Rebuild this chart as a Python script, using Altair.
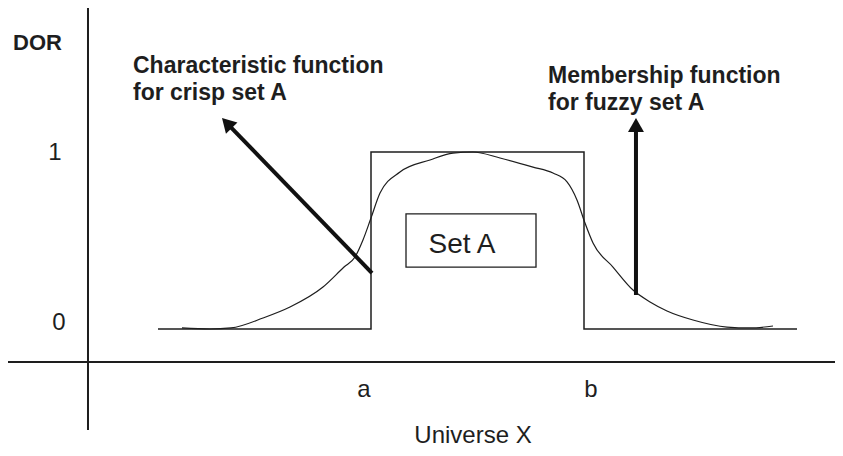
import math
import altair as alt
import pandas as pd

# ---- frame (universe units on x, degree of membership on y) ----
X_MIN, X_MAX = -2.1127, 9.5352
Y_MIN, Y_MAX = -0.6723, 1.8136
W, H = 827, 440
INK = "#1e1e1e"
FONT = "Liberation Sans"

# ---- crisp characteristic function ----
crisp_x = [0, 3, 3, 6, 6, 9]
crisp_y = [0, 0, 1, 1, 0, 0]

# ---- fuzzy membership function ----
fuzzy_x = [0.338, 0.732, 1.028, 1.479, 1.859, 2.324, 2.620, 2.775, 2.887, 3.0,
           3.127, 3.408, 3.831, 4.155, 4.437, 4.817, 5.282, 5.563, 5.761, 5.901,
           6.014, 6.127, 6.408, 6.690, 6.930, 7.169, 7.535, 8.014, 8.338, 8.662]
fuzzy_y = [0.006, 0.0, 0.006, 0.062, 0.124, 0.237, 0.350, 0.407, 0.503, 0.627,
           0.768, 0.887, 0.955, 0.994, 1.0, 0.966, 0.915, 0.881, 0.831, 0.729,
           0.599, 0.486, 0.350, 0.220, 0.153, 0.102, 0.051, 0.011, 0.006, 0.017]

# ---- hand-drawn axes ----
v_axis_x = [-0.986]
v_axis_y = [-0.571, 1.8136]
h_axis_y = [-0.1864]
h_axis_x = [X_MIN, X_MAX]

# ---- "Set A" box ----
box_x = [3.493]
box_x2 = [5.324]
box_y = [0.350]
box_y2 = [0.650]

# ---- arrows ----
arrow_sx = [3.014, 6.732]
arrow_sy = [0.316, 0.192]
arrow_tx = [0.901, 6.732]
arrow_ty = [1.192, 1.192]

# ---- labels ----
tick_lbl = ["1", "0"]
tick_lbl_x = [-1.451, -1.394]
tick_lbl_y = [0.955, -0.006]
pt_lbl = ["a", "b"]
pt_lbl_x = [2.901, 6.099]
pt_lbl_y = [-0.384, -0.384]
notes = ["Characteristic function\nfor crisp set A", "Membership function\nfor fuzzy set A"]
notes_x = [-0.352, 5.493]
notes_y = [1.446, 1.390]

xs = alt.Scale(domain=[X_MIN, X_MAX], nice=False, zero=False)
ys = alt.Scale(domain=[Y_MIN, Y_MAX], nice=False, zero=False)


def X(f="x"):
    return alt.X(f"{f}:Q", scale=xs, axis=None)


def Y(f="y"):
    return alt.Y(f"{f}:Q", scale=ys, axis=None)


px_x = W / (X_MAX - X_MIN)
px_y = H / (Y_MAX - Y_MIN)
rows = []
for sx, sy, tx, ty in zip(arrow_sx, arrow_sy, arrow_tx, arrow_ty):
    dxp = (tx - sx) * px_x
    dyp = (ty - sy) * px_y
    L = math.hypot(dxp, dyp)
    back = 8.0
    ex = tx - dxp / L * back / px_x
    ey = ty - dyp / L * back / px_y
    ang = math.degrees(math.atan2(dxp, dyp)) % 360
    rows.append(dict(x=sx, y=sy, x2=ex, y2=ey, tx=tx, ty=ty, ang=ang))
arrows = pd.DataFrame(rows)

crisp = alt.Chart(pd.DataFrame({"x": crisp_x, "y": crisp_y, "o": range(len(crisp_x))})).mark_line(
    color=INK, strokeWidth=1.5).encode(x=X(), y=Y(), order="o:Q")
fuzzy = alt.Chart(pd.DataFrame({"x": fuzzy_x, "y": fuzzy_y})).mark_line(
    color=INK, strokeWidth=1.2, interpolate="monotone").encode(x=X(), y=Y())

vaxis = alt.Chart(pd.DataFrame({"x": v_axis_x, "y": [v_axis_y[0]], "y2": [v_axis_y[1]]})).mark_rule(
    color=INK, strokeWidth=2).encode(x=X(), y=Y(), y2="y2:Q")
haxis = alt.Chart(pd.DataFrame({"y": h_axis_y, "x": [h_axis_x[0]], "x2": [h_axis_x[1]]})).mark_rule(
    color=INK, strokeWidth=2).encode(y=Y(), x=X(), x2="x2:Q")

box = alt.Chart(pd.DataFrame({"x": box_x, "x2": box_x2, "y": box_y, "y2": box_y2})).mark_rect(
    fill="transparent", stroke=INK, strokeWidth=1.3).encode(x=X(), x2="x2:Q", y=Y(), y2="y2:Q")

shafts = alt.Chart(arrows).mark_rule(color="#111", strokeWidth=4).encode(
    x=X(), y=Y(), x2="x2:Q", y2="y2:Q")
heads = alt.Chart(arrows).mark_point(
    shape="M0,0L0.57,1L-0.57,1Z", filled=True, opacity=1, color="#111", size=784, strokeWidth=0
).encode(x=X("tx"), y=Y("ty"), angle=alt.Angle("ang:Q", scale=None))


def txt(df, size, bold=False, align="center", **kw):
    return alt.Chart(df).mark_text(
        font=FONT, fontSize=size, fontWeight="bold" if bold else "normal", color=INK,
        align=align, baseline="alphabetic", **kw
    ).encode(x=X(), y=Y(), text="t:N")


t_dor = txt(pd.DataFrame({"x": [-2.042], "y": [1.576], "t": ["DOR"]}), 22, bold=True, align="left")
t_ticks = txt(pd.DataFrame({"x": tick_lbl_x, "y": tick_lbl_y, "t": tick_lbl}), 24)
t_pts = txt(pd.DataFrame({"x": pt_lbl_x, "y": pt_lbl_y, "t": pt_lbl}), 24)
t_univ = txt(pd.DataFrame({"x": [4.437], "y": [-0.645], "t": ["Universe X"]}), 24)
t_seta = txt(pd.DataFrame({"x": [4.282], "y": [0.429], "t": ["Set A"]}), 28)
t_notes = txt(pd.DataFrame({"x": notes_x, "y": notes_y, "t": notes}), 23, bold=True, align="left",
              lineBreak="\n", lineHeight=27)

chart = alt.layer(
    vaxis, haxis, crisp, fuzzy, box, shafts, heads,
    t_dor, t_ticks, t_pts, t_univ, t_seta, t_notes
).properties(
    width=W, height=H, padding=0, autosize="none", background="white"
).configure_view(strokeWidth=0)

chart.save("out.html", embed_options={"renderer": "svg", "actions": False})
